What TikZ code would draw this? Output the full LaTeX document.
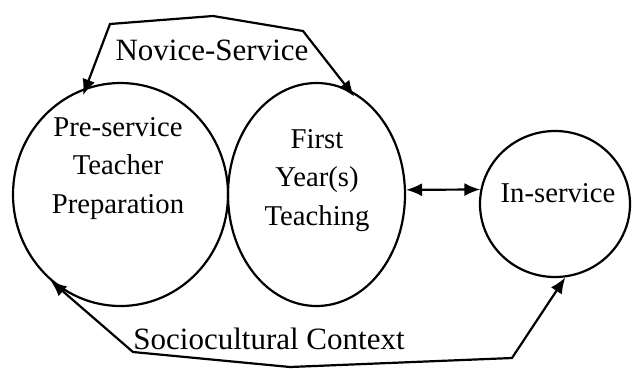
\documentclass[tikz,border=0pt]{standalone}
\usepackage{fontspec}
\setmainfont{Liberation Serif}
\usetikzlibrary{shapes.geometric,arrows.meta}
\begin{document}
\begin{tikzpicture}[x=1pt,y=-1pt,
  stage/.style={draw,ellipse,line width=2.2pt,inner sep=0pt},
  stagetext/.style={align=center,font=\fontsize{28.7}{38.5}\selectfont,inner sep=0pt},
  lbl/.style={font=\fontsize{31}{37}\selectfont,inner sep=0pt},
  conn/.style={line width=2.2pt,line join=miter,{Latex[length=16pt,width=13pt]}-{Latex[length=16pt,width=13pt]}}
]
\useasboundingbox (0,0) rectangle (632,368);
\node[stage,minimum width=215pt,minimum height=223pt] (pre) at (120.5,194.5) {};
\node[stage,minimum width=177pt,minimum height=223pt] (first) at (316.5,194.5) {};
\node[stage,minimum width=150pt,minimum height=146pt] (ins) at (555,204) {};
\node[stagetext,anchor=base] (pretext) at (118,213) {Pre-service\\Teacher\\Preparation};
\node[stagetext,anchor=base] (firsttext) at (317,225) {First\\Year(s)\\Teaching};
\node[stagetext,anchor=base] (instext) at (558,202) {In-service};
\node[lbl,anchor=base] (nov) at (212,60) {Novice-Service};
\node[lbl,anchor=base] (soc) at (269,349) {Sociocultural Context};
\coordinate (n1) at (110,24);
\coordinate (n2) at (213,16);
\coordinate (n3) at (303,31);
\coordinate (s1) at (133,352);
\coordinate (s2) at (290,367);
\coordinate (s3) at (512,358);
\draw[conn,shorten <=-8pt,shorten >=-9pt] (pre.108.6) -- (n1) -- (n2) -- (n3) -- (first.73.7);
\draw[conn] (pre.231.3) -- (s1) -- (s2) -- (s3) -- (ins.278);
\draw[conn] (first.3) -- (ins.169);
\end{tikzpicture}
\end{document}
